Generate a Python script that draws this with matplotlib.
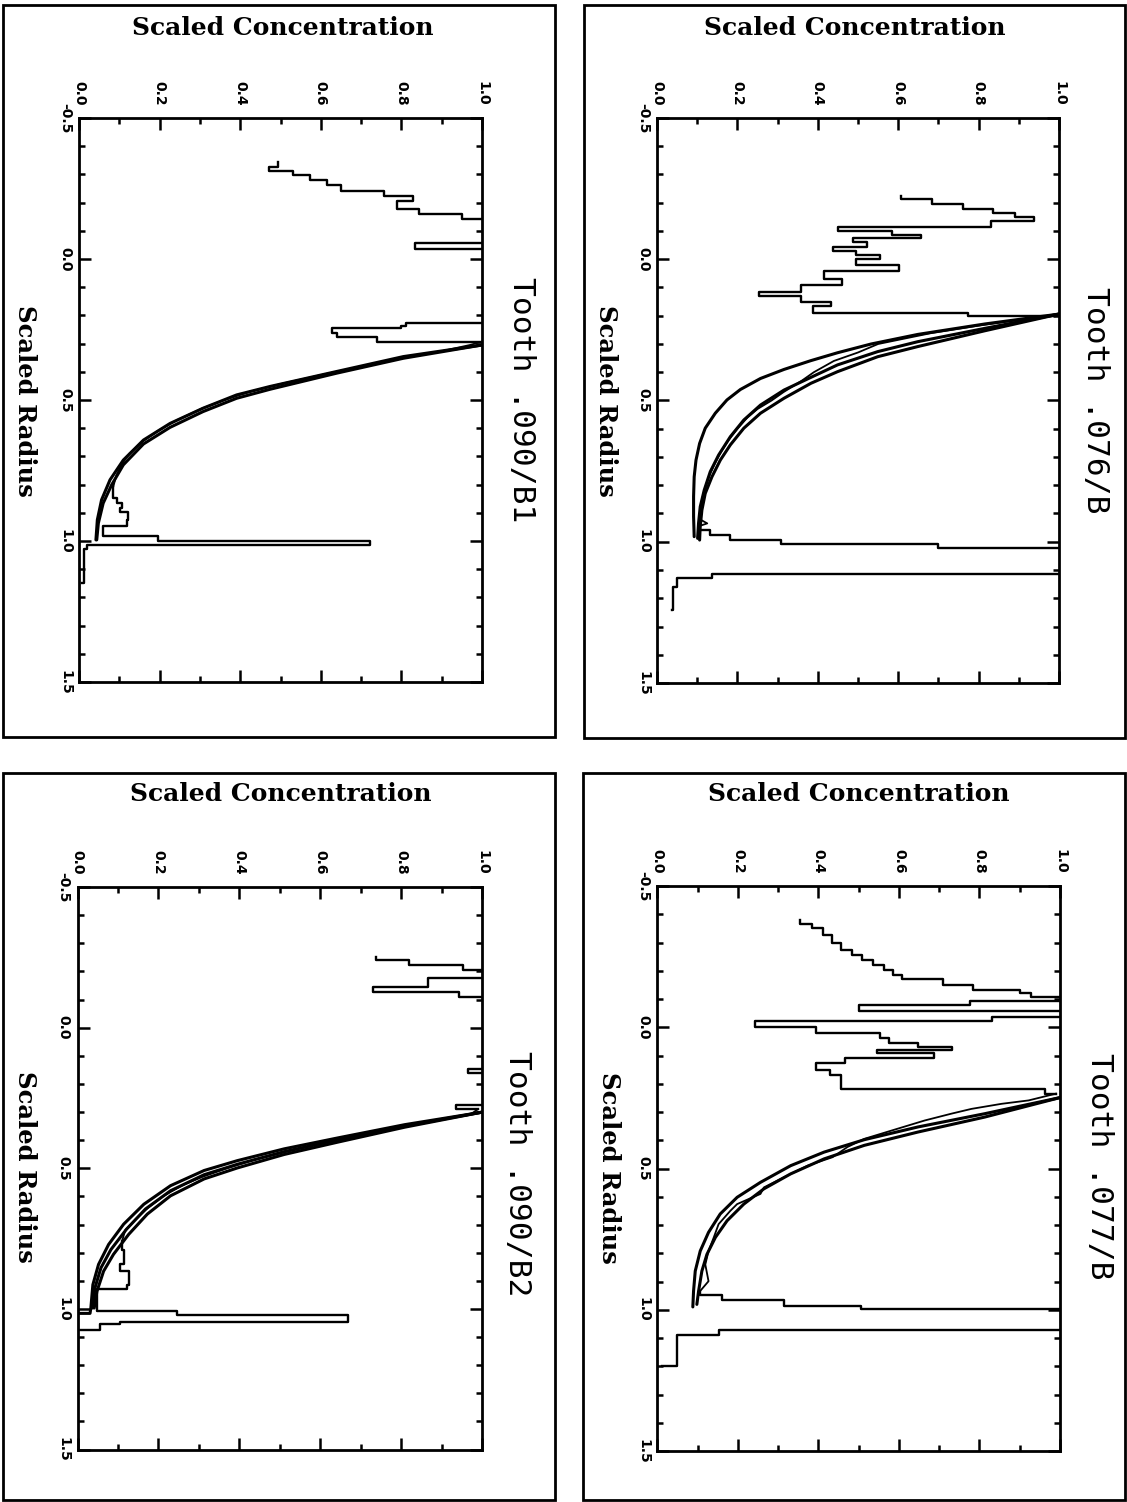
import matplotlib
matplotlib.use("Agg")
import matplotlib.pyplot as plt
from matplotlib.patches import Rectangle
from matplotlib.ticker import FixedLocator, MultipleLocator

plt.rcParams['axes.unicode_minus'] = False

# ---------------- data ----------------
tooth_names = ["Tooth .090/B1", "Tooth .076/B", "Tooth .090/B2", "Tooth .077/B"]
conc_label = "Scaled Concentration"
radius_label = "Scaled Radius"
conc_ticks = [0.0, 0.2, 0.4, 0.6, 0.8, 1.0]
conc_tick_labels = ["0.0", "0.2", "0.4", "0.6", "0.8", "1.0"]
radius_ticks = [-0.5, 0.0, 0.5, 1.0, 1.5]
radius_tick_labels = ["-0.5", "0.0", "0.5", "1.0", "1.5"]

# ---- Tooth .076/B ----
# measured trace, outer (enamel) part, stepped: radius, concentration
enamel_r_076 = [-0.225, -0.212, -0.196, -0.177, -0.162, -0.148, -0.135, -0.115, -0.100, -0.085,
                -0.075, -0.060, -0.045, -0.030, -0.015, 0.000, 0.020, 0.040, 0.070, 0.090,
                0.115, 0.130, 0.150, 0.165, 0.190, 0.200]
enamel_c_076 = [0.608, 0.684, 0.760, 0.836, 0.890, 0.939, 0.832, 0.451, 0.585, 0.657,
                0.487, 0.523, 0.438, 0.496, 0.554, 0.496, 0.603, 0.415, 0.460, 0.357,
                0.254, 0.357, 0.433, 0.388, 0.773, 0.990]
# measured trace along the diffusion profile
along_r_076 = [0.200, 0.215, 0.235, 0.262, 0.300, 0.330, 0.360, 0.400, 0.430, 0.470, 0.500,
               0.530, 0.560, 0.600, 0.640, 0.680, 0.720, 0.760, 0.800, 0.840, 0.880,
               0.920, 0.935, 0.945, 0.958]
along_c_076 = [0.990, 0.900, 0.800, 0.680, 0.550, 0.500, 0.440, 0.390, 0.360, 0.315, 0.285,
               0.250, 0.225, 0.200, 0.178, 0.160, 0.145, 0.132, 0.122, 0.114, 0.108,
               0.106, 0.125, 0.104, 0.108]
# measured trace at the pulp boundary, stepped
pulp_r_076 = [0.958, 0.958, 0.976, 0.994, 1.008, 1.023, 1.114, 1.129, 1.160, 1.240]
pulp_c_076 = [0.108, 0.1325, 0.1825, 0.3075, 0.699, 1.05, 0.137, 0.049, 0.040, 0.037]
# model curves
fitA_r_076 = [0.194, 0.229, 0.266, 0.300, 0.331, 0.359, 0.390, 0.422, 0.461, 0.498,
              0.545, 0.598, 0.652, 0.711, 0.770, 0.840, 0.911, 0.982]
fitA_c_076 = [1.0, 0.816, 0.649, 0.5325, 0.449, 0.3825, 0.316, 0.2575, 0.2075, 0.174,
              0.145, 0.120, 0.106, 0.097, 0.0925, 0.091, 0.091, 0.0925]
fitB_r_076 = [0.194, 0.2445, 0.2917, 0.327, 0.374, 0.418, 0.463, 0.516, 0.569, 0.628,
              0.693, 0.752, 0.817, 0.876, 0.935, 0.988]
fitB_c_076 = [1.0, 0.816, 0.649, 0.549, 0.449, 0.383, 0.316, 0.2575, 0.216, 0.1825,
              0.1533, 0.1325, 0.1175, 0.1075, 0.1033, 0.101]
fitC_r_076 = [0.194, 0.253, 0.309, 0.345, 0.398, 0.439, 0.492, 0.545, 0.598, 0.657,
              0.711, 0.770, 0.829, 0.888, 0.947, 0.994]
fitC_c_076 = [1.0, 0.816, 0.649, 0.549, 0.449, 0.383, 0.316, 0.2575, 0.216, 0.1825,
              0.1575, 0.1367, 0.120, 0.1117, 0.1075, 0.106]

# ---- Tooth .090/B1 ----
enamel_r_090b1 = [-0.345, -0.327, -0.312, -0.297, -0.279, -0.262, -0.242, -0.223, -0.205, -0.178,
                  -0.159, -0.142, -0.055, -0.037, 0.228, 0.238, 0.246, 0.264, 0.275, 0.293]
enamel_c_090b1 = [0.494, 0.471, 0.530, 0.574, 0.615, 0.651, 0.758, 0.830, 0.789, 0.843,
                  0.951, 1.05, 0.834, 1.05, 0.812, 0.799, 0.628, 0.641, 0.740, 1.0]
along_r_090b1 = [0.293, 0.305, 0.330, 0.345, 0.360, 0.370, 0.390, 0.410, 0.440, 0.470, 0.500,
                 0.530, 0.570, 0.610, 0.650, 0.690, 0.730, 0.770, 0.807]
along_c_090b1 = [1.0, 0.970, 0.890, 0.820, 0.770, 0.735, 0.670, 0.605, 0.510, 0.425, 0.360,
                 0.305, 0.245, 0.195, 0.155, 0.125, 0.105, 0.092, 0.0852]
pulp_r_090b1 = [0.807, 0.849, 0.866, 0.884, 0.896, 0.926, 0.947, 0.981, 0.999, 1.014, 1.030, 1.150]
pulp_c_090b1 = [0.0852, 0.0935, 0.106, 0.102, 0.1224, 0.120, 0.060, 0.197, 0.722, 0.019, 0.012, 0.008]
fitA_r_090b1 = [0.305, 0.346, 0.399, 0.452, 0.482, 0.529, 0.583, 0.642, 0.713, 0.783,
                0.854, 0.925, 0.996]
fitA_c_090b1 = [1.0, 0.805, 0.639, 0.474, 0.391, 0.308, 0.226, 0.160, 0.110, 0.077,
                0.056, 0.0455, 0.042]
fitB_r_090b1 = [0.305, 0.352, 0.405, 0.462, 0.494, 0.541, 0.597, 0.656, 0.730, 0.801,
                0.866, 0.937, 0.996]
fitB_c_090b1 = [1.0, 0.805, 0.639, 0.474, 0.391, 0.308, 0.226, 0.160, 0.110, 0.081,
                0.060, 0.048, 0.044]

# ---- Tooth .090/B2 ----
enamel_r_090b2 = [-0.250, -0.240, -0.222, -0.204, -0.175, -0.145, -0.125, -0.109, 0.148, 0.160,
                  0.275, 0.290]
enamel_c_090b2 = [0.739, 0.819, 0.952, 1.05, 0.867, 0.730, 0.943, 1.05, 0.965, 1.05,
                  0.935, 0.990]
along_r_090b2 = [0.290, 0.310, 0.330, 0.360, 0.390, 0.420, 0.440, 0.470, 0.500, 0.530, 0.560,
                 0.600, 0.640, 0.680, 0.720, 0.760]
along_c_090b2 = [0.990, 0.970, 0.880, 0.775, 0.675, 0.578, 0.520, 0.436, 0.370, 0.310, 0.260,
                 0.211, 0.175, 0.145, 0.118, 0.110]
pulp_r_090b2 = [0.760, 0.790, 0.840, 0.866, 0.914, 0.928, 1.007, 1.022, 1.046, 1.055, 1.075]
pulp_c_090b2 = [0.110, 0.115, 0.106, 0.127, 0.122, 0.048, 0.247, 0.669, 0.106, 0.056, 0.000]
fitA_r_090b2 = [0.3006, 0.345, 0.392, 0.431, 0.473, 0.508, 0.562, 0.628, 0.699, 0.771,
                0.842, 0.914, 0.997, 1.016, 1.016]
fitA_c_090b2 = [1.0, 0.809, 0.644, 0.511, 0.395, 0.313, 0.230, 0.164, 0.114, 0.0769,
                0.052, 0.038, 0.033, 0.031, 0.0]
fitB_r_090b2 = [0.3006, 0.350, 0.399, 0.441, 0.486, 0.523, 0.580, 0.645, 0.717, 0.789,
                0.854, 0.926, 0.997]
fitB_c_090b2 = [1.0, 0.809, 0.644, 0.511, 0.395, 0.313, 0.230, 0.168, 0.121, 0.0827,
                0.058, 0.043, 0.0372]
fitC_r_090b2 = [0.3006, 0.354, 0.407, 0.451, 0.499, 0.538, 0.598, 0.663, 0.735, 0.806,
                0.866, 0.938, 0.997]
fitC_c_090b2 = [1.0, 0.809, 0.644, 0.511, 0.395, 0.313, 0.230, 0.1726, 0.1266, 0.089,
                0.0645, 0.048, 0.0413]

# ---- Tooth .077/B ----
enamel_r_077 = [-0.380, -0.366, -0.350, -0.327, -0.297, -0.274, -0.256, -0.238, -0.220, -0.203,
                -0.185, -0.170, -0.150, -0.132, -0.120, -0.108, -0.094, -0.079, -0.059, -0.038,
                -0.022, 0.000, 0.019, 0.039, 0.057, 0.069, 0.080, 0.092, 0.110, 0.127,
                0.150, 0.170, 0.219, 0.235]
enamel_c_077 = [0.354, 0.385, 0.411, 0.434, 0.456, 0.483, 0.509, 0.536, 0.563, 0.585,
                0.607, 0.709, 0.785, 0.901, 0.928, 1.05, 0.776, 0.500, 1.05, 0.830,
                0.242, 0.394, 0.554, 0.576, 0.647, 0.732, 0.545, 0.687, 0.465, 0.394,
                0.429, 0.456, 0.963, 0.990]
along_r_077 = [0.235, 0.259, 0.271, 0.289, 0.306, 0.330, 0.359, 0.395, 0.424, 0.460, 0.490,
               0.531, 0.567, 0.590, 0.626, 0.650, 0.697, 0.744, 0.792, 0.840, 0.899, 0.934]
along_c_077 = [0.990, 0.922, 0.855, 0.780, 0.730, 0.664, 0.597, 0.514, 0.472, 0.435, 0.373,
               0.314, 0.2645, 0.256, 0.198, 0.181, 0.152, 0.140, 0.127, 0.119, 0.127, 0.106]
pulp_r_077 = [0.934, 0.948, 0.964, 0.987, 0.999, 1.070, 1.090, 1.200]
pulp_c_077 = [0.106, 0.160, 0.314, 0.506, 1.05, 0.152, 0.048, 0.011]
fitA_r_077 = [0.249, 0.306, 0.353, 0.398, 0.442, 0.490, 0.549, 0.602, 0.661, 0.726,
              0.792, 0.863, 0.934, 0.990]
fitA_c_077 = [1.0, 0.813, 0.647, 0.514, 0.414, 0.331, 0.256, 0.198, 0.156, 0.127,
              0.1064, 0.094, 0.0898, 0.088]
fitB_r_077 = [0.249, 0.318, 0.371, 0.418, 0.466, 0.519, 0.572, 0.626, 0.685, 0.744,
              0.804, 0.863, 0.934, 0.981]
fitB_c_077 = [1.0, 0.813, 0.647, 0.514, 0.414, 0.331, 0.2645, 0.2146, 0.173, 0.144,
              0.123, 0.1105, 0.1023, 0.098]

# ---------------- layout ----------------
W, H = 1127, 1502
fig = plt.figure(figsize=(W / 100, H / 100), dpi=100)
fig.patch.set_facecolor('white')


def fx(px):
    return px / W


def fy(py):
    return 1 - py / H


panels = [
    dict(name=tooth_names[0],
         steps=[(enamel_r_090b1, enamel_c_090b1), (pulp_r_090b1, pulp_c_090b1)],
         along=(along_r_090b1, along_c_090b1),
         fits=[(fitA_r_090b1, fitA_c_090b1), (fitB_r_090b1, fitB_c_090b1)],
         ax=(79, 118, 482, 682), frame=(3, 5, 555, 737),
         title=(521, 400), xlab=(283, 28), ylab=(25, 401)),
    dict(name=tooth_names[1],
         steps=[(enamel_r_076, enamel_c_076), (pulp_r_076, pulp_c_076)],
         along=(along_r_076, along_c_076),
         fits=[(fitA_r_076, fitA_c_076), (fitB_r_076, fitB_c_076), (fitC_r_076, fitC_c_076)],
         ax=(657, 118, 1059, 683), frame=(584, 5, 1125, 738),
         title=(1095, 400), xlab=(855, 28), ylab=(606, 401)),
    dict(name=tooth_names[2],
         steps=[(enamel_r_090b2, enamel_c_090b2), (pulp_r_090b2, pulp_c_090b2)],
         along=(along_r_090b2, along_c_090b2),
         fits=[(fitA_r_090b2, fitA_c_090b2), (fitB_r_090b2, fitB_c_090b2), (fitC_r_090b2, fitC_c_090b2)],
         ax=(77.5, 887, 482, 1449.5), frame=(3, 773, 555, 1500),
         title=(518, 1174), xlab=(281, 794), ylab=(25, 1167)),
    dict(name=tooth_names[3],
         steps=[(enamel_r_077, enamel_c_077), (pulp_r_077, pulp_c_077)],
         along=(along_r_077, along_c_077),
         fits=[(fitA_r_077, fitA_c_077), (fitB_r_077, fitB_c_077)],
         ax=(657.4, 886, 1060, 1451), frame=(583, 773, 1125, 1500),
         title=(1099, 1166), xlab=(859, 794), ylab=(609, 1168)),
]

for p in panels:
    x0, y0, x1, y1 = p['ax']
    ax = fig.add_axes([fx(x0), fy(y1), (x1 - x0) / W, (y1 - y0) / H])
    ax.set_xlim(0, 1)
    ax.set_ylim(1.5, -0.5)
    for r, c in p['fits']:
        ax.plot(c, r, color='black', lw=2.2, solid_joinstyle='round', solid_capstyle='round')
    for r, c in p['steps']:
        ax.plot(c, r, drawstyle='steps-pre', color='black', lw=1.7, solid_joinstyle='round')
    ar, ac = p['along']
    ax.plot(ac, ar, color='black', lw=1.3, solid_joinstyle='round')

    ax.xaxis.set_major_locator(FixedLocator(conc_ticks))
    ax.xaxis.set_minor_locator(MultipleLocator(0.1))
    ax.yaxis.set_major_locator(FixedLocator(radius_ticks))
    ax.yaxis.set_minor_locator(MultipleLocator(0.1))
    ax.tick_params(which='both', direction='in', top=True, bottom=True, left=True, right=True,
                   labeltop=True, labelbottom=False, labelleft=True, labelright=False,
                   width=1.8, color='black')
    ax.tick_params(which='major', length=8.5)
    ax.tick_params(which='minor', length=4.5)
    ax.tick_params(axis='x', which='major', pad=9)
    ax.tick_params(axis='y', which='major', pad=5)
    ax.set_xticklabels(conc_tick_labels, rotation=-90, fontsize=10, fontweight='bold',
                       family='DejaVu Sans')
    ax.set_yticklabels(radius_tick_labels, rotation=-90, va='center', fontsize=10,
                       fontweight='bold', family='DejaVu Sans')
    for s in ax.spines.values():
        s.set_linewidth(2.0)

    fx0, fy0, fx1, fy1 = p['frame']
    fig.add_artist(Rectangle((fx(fx0), fy(fy1)), (fx1 - fx0) / W, (fy1 - fy0) / H,
                             transform=fig.transFigure, fill=False, lw=2.0, ec='black'))

    fig.text(fx(p['xlab'][0]), fy(p['xlab'][1]), conc_label, ha='center', va='center',
             fontsize=18, fontweight='bold', family='DejaVu Serif')
    fig.text(fx(p['ylab'][0]), fy(p['ylab'][1]), radius_label, ha='center', va='center',
             rotation=-90, fontsize=17.5, fontweight='bold', family='DejaVu Serif')
    fig.text(fx(p['title'][0]), fy(p['title'][1]), p['name'], ha='center', va='center',
             rotation=-90, fontsize=22.5, family='DejaVu Sans Mono')

fig.savefig('out.png', dpi=100, facecolor='white')
